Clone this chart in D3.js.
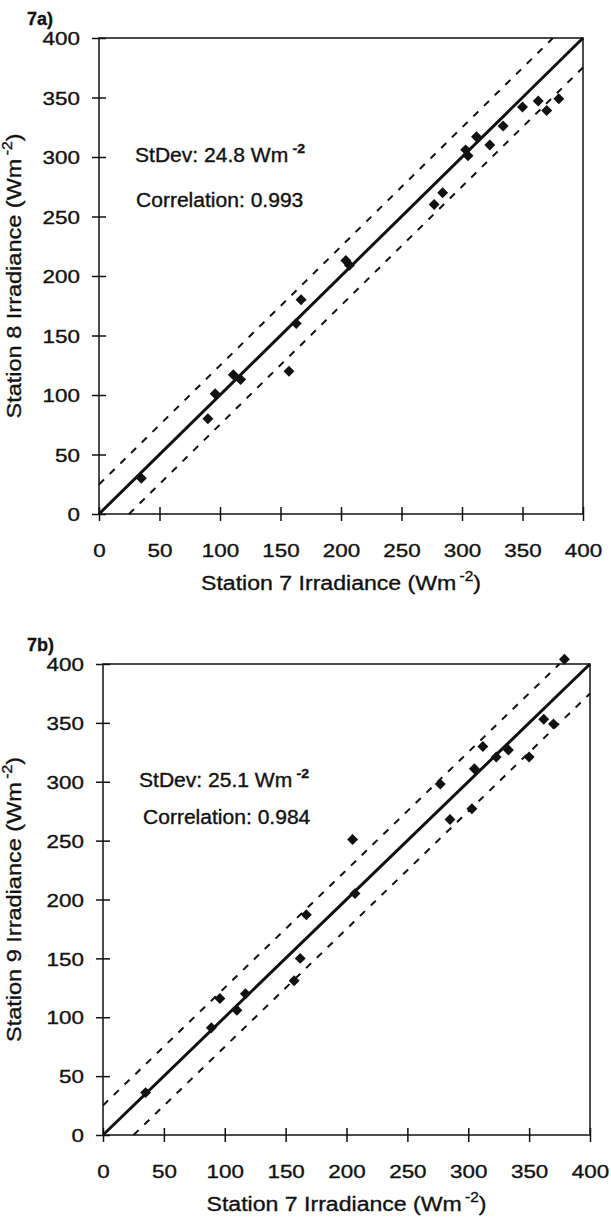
<!DOCTYPE html>
<html>
<head>
<meta charset="utf-8">
<script src="https://cdn.jsdelivr.net/npm/d3@7"></script>
<style>
  body { margin: 0; background: #fff; }
  text { font-family: "Liberation Sans", Arial, sans-serif; fill: #111; stroke: #111; stroke-width: 0.35px; }
</style>
</head>
<body>
<div id="content"></div>
<script>
// Tick values shared by both panels.
var ticks = [0, 50, 100, 150, 200, 250, 300, 350, 400];

// Panel 7a: station 7 vs station 8.
var station7a = [35, 90, 96, 111, 117, 157, 163, 167, 204, 207, 277, 284, 303, 305, 312, 323, 334, 350, 363, 370, 380];
var station8 = [30, 80, 101, 117, 113, 120, 160, 180, 213, 209, 260, 270, 306, 301, 317, 310, 326, 342, 347, 339, 349];

// Panel 7b: station 7 vs station 9.
var station7b = [35, 89, 96, 110, 117, 157, 162, 167, 205, 207, 277, 285, 303, 305, 312, 323, 333, 350, 362, 370, 379];
var station9 = [36, 91, 116, 106, 120, 131, 150, 187, 251, 205, 298, 268, 277, 311, 330, 321, 327, 321, 353, 349, 404];

var stdevs = [24.8, 25.1];
var correlations = ['0.993', '0.984'];
var panelLabels = ['7a)', '7b)'];
var yTitles = ['Station 8 Irradiance', 'Station 9 Irradiance'];
var xTitle = 'Station 7 Irradiance';

var stretch = 1.18;   // the scanned lettering is wider than Arial

var svg = d3.select('#content')
              .append('svg')
              .attr('width', 611)
              .attr('height', 1221);

svg.append('rect').attr('width', 611).attr('height', 1221).attr('fill', '#fff');

function drawPanel(i, box, xs, ys) {
  var g = svg.append('g')
      .attr('transform', 'translate(' + box.left + ',' + box.top + ')');

  var x = d3.scaleLinear().domain([0, 400]).range([0, box.width]);
  var y = d3.scaleLinear().domain([0, 400]).range([box.height, 0]);

  // Frame
  g.append('rect')
      .attr('width', box.width)
      .attr('height', box.height)
      .attr('fill', 'none')
      .attr('stroke', '#111')
      .attr('stroke-width', 1.5);

  // X axis, ticks cross the frame line
  var xg = g.append('g')
      .attr('transform', 'translate(0,' + box.height + ')')
      .call(d3.axisBottom(x).tickValues(ticks).tickSizeOuter(0));
  xg.select('.domain').remove();
  xg.selectAll('line').attr('y1', -7).attr('y2', 7)
      .attr('stroke', '#111').attr('stroke-width', 1.5);
  xg.selectAll('text')
      .attr('y', 43).attr('dy', 0)
      .attr('font-size', 19)
      .attr('font-family', '"Liberation Sans", Arial, sans-serif')
      .attr('fill', '#111')
      .attr('transform', 'scale(' + stretch + ',1)');

  // Y axis
  var yg = g.append('g')
      .call(d3.axisLeft(y).tickValues(ticks).tickSizeOuter(0));
  yg.select('.domain').remove();
  yg.selectAll('line').attr('x1', -7).attr('x2', 7)
      .attr('stroke', '#111').attr('stroke-width', 1.5);
  yg.selectAll('text')
      .attr('x', -19 / stretch)
      .attr('dy', '0.35em')
      .attr('font-size', 19)
      .attr('font-family', '"Liberation Sans", Arial, sans-serif')
      .attr('fill', '#111')
      .attr('transform', 'scale(' + stretch + ',1)');

  // 1:1 line and +/- one standard deviation
  var line = d3.line()
      .x(function(d) { return x(d[0]); })
      .y(function(d) { return y(d[1]); });
  var s = stdevs[i];
  g.append('path')
      .datum([[0, s], [400 - s, 400]])
      .attr('fill', 'none').attr('stroke', '#111')
      .attr('stroke-width', 2).attr('stroke-dasharray', '7,8')
      .attr('d', line);
  g.append('path')
      .datum([[s, 0], [400, 400 - s]])
      .attr('fill', 'none').attr('stroke', '#111')
      .attr('stroke-width', 2).attr('stroke-dasharray', '7,8')
      .attr('d', line);
  g.append('path')
      .datum([[0, 0], [400, 400]])
      .attr('fill', 'none').attr('stroke', '#111')
      .attr('stroke-width', 3)
      .attr('d', line);

  // Points (diamonds)
  var pts = xs.map(function(v, k) { return [v, ys[k]]; });
  var diamond = d3.symbol().type(d3.symbolSquare).size(60);
  g.selectAll('.pt')
      .data(pts)
      .enter().append('path')
      .attr('class', 'pt')
      .attr('d', diamond)
      .attr('fill', '#111')
      .attr('transform', function(d) {
        return 'translate(' + x(d[0]) + ',' + y(d[1]) + ') rotate(45)';
      });

  // Annotations
  var st = g.append('text')
      .attr('transform', 'translate(36,' + (y(300) + 5) + ') scale(1.08,1)')
      .attr('font-size', 19.5);
  st.append('tspan').text('StDev: ' + s + ' Wm');
  st.append('tspan').attr('font-size', 13).attr('font-weight', 'bold')
      .attr('dy', -9).attr('dx', 4).text('-2');

  g.append('text')
      .attr('transform', 'translate(' + (37 + i * 3) + ',' + (y(250) + (i ? -17 : -10)) + ') scale(1.08,1)')
      .attr('font-size', 19.5)
      .text('Correlation: ' + correlations[i]);

  // Panel label
  svg.append('text')
      .attr('x', 27).attr('y', box.top - 13)
      .attr('font-size', 18).attr('font-weight', 'bold')
      .text(panelLabels[i]);

  // X title
  var xt = g.append('text')
      .attr('text-anchor', 'middle')
      .attr('font-size', 21)
      .attr('transform', 'translate(' + box.width / 2 + ',' + (box.height + 76) + ') scale(1.1,1)');
  xt.append('tspan').text(xTitle + ' (Wm');
  xt.append('tspan').attr('font-size', 14).attr('dy', -9).attr('dx', 3).text('-2');
  xt.append('tspan').attr('dy', 9).text(')');

  // Y title
  var yt = g.append('text')
      .attr('text-anchor', 'middle')
      .attr('font-size', 21)
      .attr('transform', 'translate(' + (21 - box.left) + ',' + box.height / 2 + ') rotate(-90) scale(1.12,1)');
  yt.append('tspan').text(yTitles[i] + ' (Wm');
  yt.append('tspan').attr('font-size', 14).attr('dy', -9).attr('dx', 3).text('-2');
  yt.append('tspan').attr('dy', 9).text(')');
}

drawPanel(0, {left : 99, top : 38, width : 484, height : 476}, station7a, station8);
drawPanel(1, {left : 103, top : 664, width : 487, height : 471}, station7b, station9);
</script>
</body>
</html>
